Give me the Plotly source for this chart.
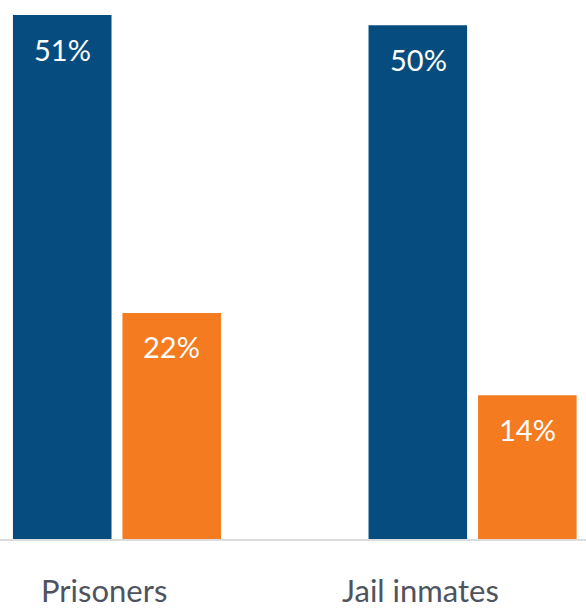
import plotly.graph_objects as go

categories = ["Prisoners", "Jail inmates"]
series_a = [51, 50]   # blue
series_b = [22, 14]   # orange
value_labels_a = ["51%", "50%"]
value_labels_b = ["22%", "14%"]

BLUE = "#064C7E"
ORANGE = "#F47B20"
FONT = "Lato, 'Open Sans', sans-serif"

fig = go.Figure()
fig.add_trace(go.Bar(x=categories, y=series_a, marker=dict(color=BLUE, line=dict(width=0)),
                     hoverinfo="skip"))
fig.add_trace(go.Bar(x=categories, y=series_b, marker=dict(color=ORANGE, line=dict(width=0)),
                     hoverinfo="skip"))

annotations = []
for cat, va, vb, la, lb in zip(categories, series_a, series_b, value_labels_a, value_labels_b):
    annotations.append(dict(x=cat, y=va, xref="x", yref="y", text=la, showarrow=False,
                            xshift=-54.5, yshift=-34, yanchor="middle",
                            font=dict(family=FONT, size=29, color="white")))
    annotations.append(dict(x=cat, y=vb, xref="x", yref="y", text=lb, showarrow=False,
                            xshift=54.5, yshift=-34, yanchor="middle",
                            font=dict(family=FONT, size=29, color="white")))

label_shifts = [-13, -52]
for cat, sh in zip(categories, label_shifts):
    annotations.append(dict(x=cat, y=0, xref="x", yref="paper", text=cat, showarrow=False,
                            xshift=sh, yshift=-51, yanchor="middle",
                            font=dict(family=FONT, size=31, color="#4E535D")))

fig.update_layout(
    width=586, height=613,
    margin=dict(l=0, r=0, t=0, b=74),
    paper_bgcolor="white", plot_bgcolor="white",
    barmode="group", bargap=0.384, bargroupgap=0.1,
    showlegend=False,
    annotations=annotations,
    xaxis=dict(range=[-0.329, 1.319], showticklabels=False, ticks="",
               showline=True, linecolor="#DCDCDC", linewidth=2, showgrid=False,
               zeroline=False, fixedrange=True),
    yaxis=dict(range=[0, 52.46], visible=False, showgrid=False, zeroline=False,
               fixedrange=True),
)

fig.write_html("out.html", config={"displayModeBar": False},
               post_script="document.body.style.margin='0';document.body.style.overflow='hidden';")
